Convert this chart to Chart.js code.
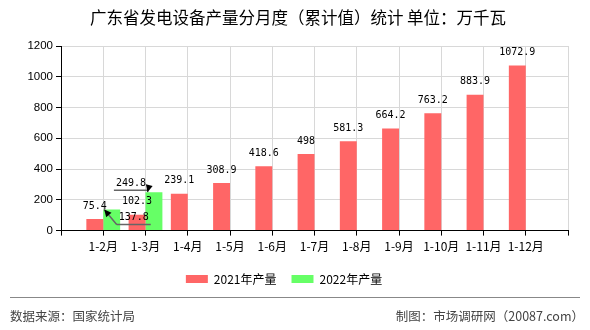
<!DOCTYPE html>
<html>
<head>
<meta charset="utf-8">
<script src="https://cdn.jsdelivr.net/npm/chart.js@4"></script>
<style>
  html, body { margin: 0; padding: 0; background: #fff; }
  canvas { display: block; }
</style>
</head>
<body>
<canvas id="c" width="590" height="330"></canvas>
<script>
var months = ['1-2月', '1-3月', '1-4月', '1-5月', '1-6月', '1-7月', '1-8月', '1-9月', '1-10月', '1-11月', '1-12月']
var output2021 = [75.4, 102.3, 239.1, 308.9, 418.6, 498, 581.3, 664.2, 763.2, 883.9, 1072.9]
var output2022 = [137.8, 249.8]
var yTicks = [0, 200, 400, 600, 800, 1000, 1200]

// empty slot at each end, like the original axis
var labels = [''].concat(months, [''])
var pad = arr => [null].concat(months.map((m, i) => arr[i] === undefined ? null : arr[i]), [null])

var CJK = '"Noto Sans CJK SC", sans-serif'
var MONO = '"DejaVu Sans Mono", monospace'

// label offsets for the two 2022 values (callouts with arrows)
var callouts = { 1: { dx: 22, dy: 8 }, 2: { dx: -23, dy: -9 } }

var valueLabels = {
    id: 'valueLabels',
    afterDatasetsDraw(chart) {
        var c = chart.ctx
        c.save()
        c.font = '10px ' + MONO
        c.textAlign = 'center'
        c.textBaseline = 'middle'
        c.fillStyle = '#000'
        chart.data.datasets.forEach((ds, di) => {
            var meta = chart.getDatasetMeta(di)
            meta.data.forEach((bar, i) => {
                var v = ds.data[i]
                if (v == null) return
                var text = String(v)
                if (di === 0) {
                    c.fillText(text, bar.x, bar.y - 13)
                    return
                }
                var o = callouts[i] || { dx: 0, dy: -13 }
                var tx = bar.x + o.dx, ty = bar.y + o.dy
                c.fillText(text, tx, ty)
                var w = c.measureText(text).width
                var uy = ty + 7
                var x0 = tx - w / 2 - 2, x1 = tx + w / 2 + 2
                c.strokeStyle = '#666'
                c.lineWidth = 1.5
                c.beginPath()
                c.moveTo(x0, uy)
                c.lineTo(x1, uy)
                // leader from the underline end nearest the bar
                var sx = Math.abs(x0 - bar.x) < Math.abs(x1 - bar.x) ? x0 : x1
                var ex = bar.x - bar.width / 2 + 2, ey = bar.y
                if (sx > bar.x) ex = bar.x - bar.width / 2 + 1
                c.moveTo(sx, uy)
                c.lineTo(ex, ey)
                c.stroke()
                var ang = Math.atan2(ey - uy, ex - sx)
                var L = 8
                c.fillStyle = '#000'
                c.beginPath()
                c.moveTo(ex, ey)
                c.lineTo(ex - L * Math.cos(ang - 0.45), ey - L * Math.sin(ang - 0.45))
                c.lineTo(ex - L * Math.cos(ang + 0.45), ey - L * Math.sin(ang + 0.45))
                c.closePath()
                c.fill()
            })
        })
        c.restore()
    }
}

// title on top, source line at the bottom
var frame = {
    id: 'frame',
    afterDraw(chart) {
        var c = chart.ctx
        c.save()
        c.font = '16.5px ' + CJK
        c.fillStyle = '#000'
        c.textAlign = 'center'
        c.textBaseline = 'middle'
        c.fillText('广东省发电设备产量分月度（累计值）统计 单位：万千瓦', 298, 18)
        c.strokeStyle = '#888'
        c.lineWidth = 1
        c.beginPath()
        c.moveTo(10, 297.5)
        c.lineTo(580, 297.5)
        c.stroke()
        c.font = '12.5px ' + CJK
        c.fillStyle = '#444'
        c.textAlign = 'left'
        c.fillText('数据来源：国家统计局', 10, 316)
        c.textAlign = 'right'
        c.fillText('制图：市场调研网（20087.com）', 584, 316)
        c.restore()
    }
}

var ctx = document.getElementById('c').getContext('2d')
var myChart = new Chart(ctx, {
    type: 'bar',
    data: {
        labels: labels,
        datasets: [
            { label: '2021年产量', data: pad(output2021), backgroundColor: '#ff6666' },
            { label: '2022年产量', data: pad(output2022), backgroundColor: '#66ff66' }
        ]
    },
    options: {
        responsive: false,
        animation: false,
        categoryPercentage: 0.8,
        barPercentage: 1.0,
        layout: { padding: { left: 0, right: 22, top: 46, bottom: 35 } },
        plugins: {
            title: { display: false },
            legend: {
                position: 'bottom',
                labels: {
                    color: '#000',
                    font: { family: CJK, size: 12 },
                    boxWidth: 22,
                    boxHeight: 8,
                    padding: 15
                }
            },
            tooltip: { enabled: false }
        },
        scales: {
            x: {
                offset: false,
                grid: { offset: false, color: '#d8d8d8', tickColor: '#000', tickLength: 5 },
                border: { color: '#000' },
                ticks: { color: '#000', font: { family: CJK, size: 12 }, maxRotation: 0, autoSkip: false, padding: 4 }
            },
            y: {
                min: 0,
                max: 1200,
                afterBuildTicks: s => { s.ticks = yTicks.map(v => ({ value: v })) },
                afterFit: s => { s.width = 61 },
                grid: { color: '#d8d8d8', tickColor: '#000', tickLength: 5 },
                border: { color: '#000' },
                ticks: { color: '#000', font: { family: '"Liberation Sans", sans-serif', size: 11.5 }, padding: 3, callback: v => String(v) }
            }
        }
    },
    plugins: [valueLabels, frame]
})
</script>
</body>
</html>
